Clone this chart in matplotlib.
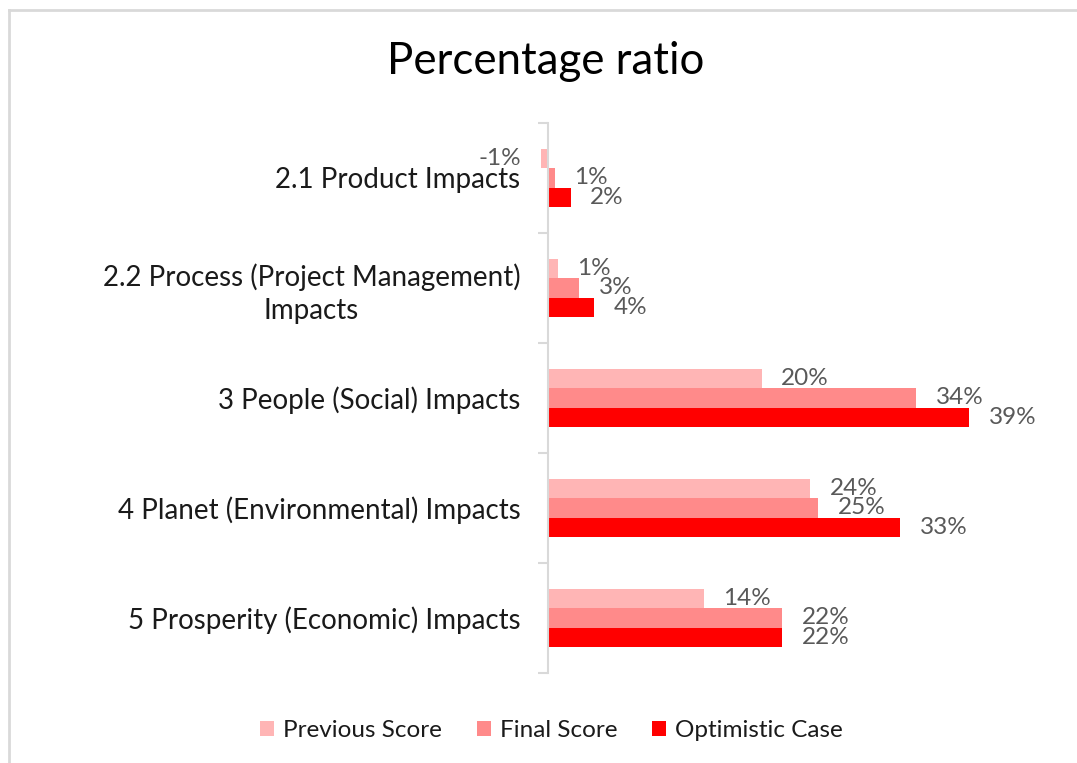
import numpy as np
import matplotlib.pyplot as plt
from matplotlib.lines import Line2D

# 数据
categories = ["2.1 Product Impacts",
              "2.2 Process (Project Management)\nImpacts",
              "3 People (Social) Impacts",
              "4 Planet (Environmental) Impacts",
              "5 Prosperity (Economic) Impacts"]
series_names = ["Previous Score", "Final Score", "Optimistic Case"]
previous_score = [-0.65, 0.9, 19.8, 24.3, 14.4]
final_score = [0.65, 2.9, 34.1, 25.0, 21.7]
optimistic_case = [2.1, 4.3, 39.0, 32.6, 21.7]
colors = ["#FFB5B5", "#FF8A8A", "#FF0000"]

plt.rcParams['font.family'] = ['Lato', 'DejaVu Sans']

fig = plt.figure(figsize=(10.77, 7.63), dpi=100)
ax = fig.add_axes([0.4888, 0.118, 0.4713, 0.7208])

# 图表外框 (只有上边和左边可见)
W, H = 1077, 763
fig.lines.append(Line2D([8.5 / W, 1], [1 - 9.5 / H, 1 - 9.5 / H],
                        transform=fig.transFigure, color="#d9d9d9", linewidth=2))
fig.lines.append(Line2D([8.5 / W, 8.5 / W], [0, 1 - 9.5 / H],
                        transform=fig.transFigure, color="#d9d9d9", linewidth=2))

y = np.arange(len(categories))
h = 0.175
for i, (vals, name, c) in enumerate(zip([previous_score, final_score, optimistic_case],
                                        series_names, colors)):
    pos = y + (i - 1) * h
    bars = ax.barh(pos, vals, height=h, color=c, label=name)
    for b, v in zip(bars, vals):
        off = 1.8 if v >= 0 else -1.8
        ax.text(v + off, b.get_y() + h / 2, f"{round(v):.0f}%",
                ha="left" if v >= 0 else "right", va="center",
                fontsize=17.5, color="#595959")

ax.set_xlim(-2, 45)
ax.set_ylim(4.5, -0.5)

# 坐标轴样式
for s in ["top", "right", "bottom"]:
    ax.spines[s].set_visible(False)
ax.spines["left"].set_position(("data", 0))
ax.spines["left"].set_color("#d9d9d9")
ax.spines["left"].set_linewidth(1.5)
ax.set_xticks([])
ax.set_yticks(y)
ax.set_yticklabels(categories, fontsize=20, color="#1a1a1a", ha="right",
                   multialignment="center", linespacing=1.3)
ax.tick_params(axis="y", which="major", length=0, pad=20)
ax.set_yticks(np.arange(-0.5, 5, 1), minor=True)
ax.tick_params(axis="y", which="minor", length=7, width=1.5, color="#d9d9d9")

fig.text(0.507, 0.919, "Percentage ratio", fontsize=31.5, ha="center", va="center")

fig.legend(loc="center", bbox_to_anchor=(0.512, 0.042), ncol=3, frameon=False,
           fontsize=17.5, handlelength=0.58, handleheight=0.58, handletextpad=0.35,
           columnspacing=1.45, labelcolor="#1a1a1a")

plt.savefig("out.png", dpi=100)
